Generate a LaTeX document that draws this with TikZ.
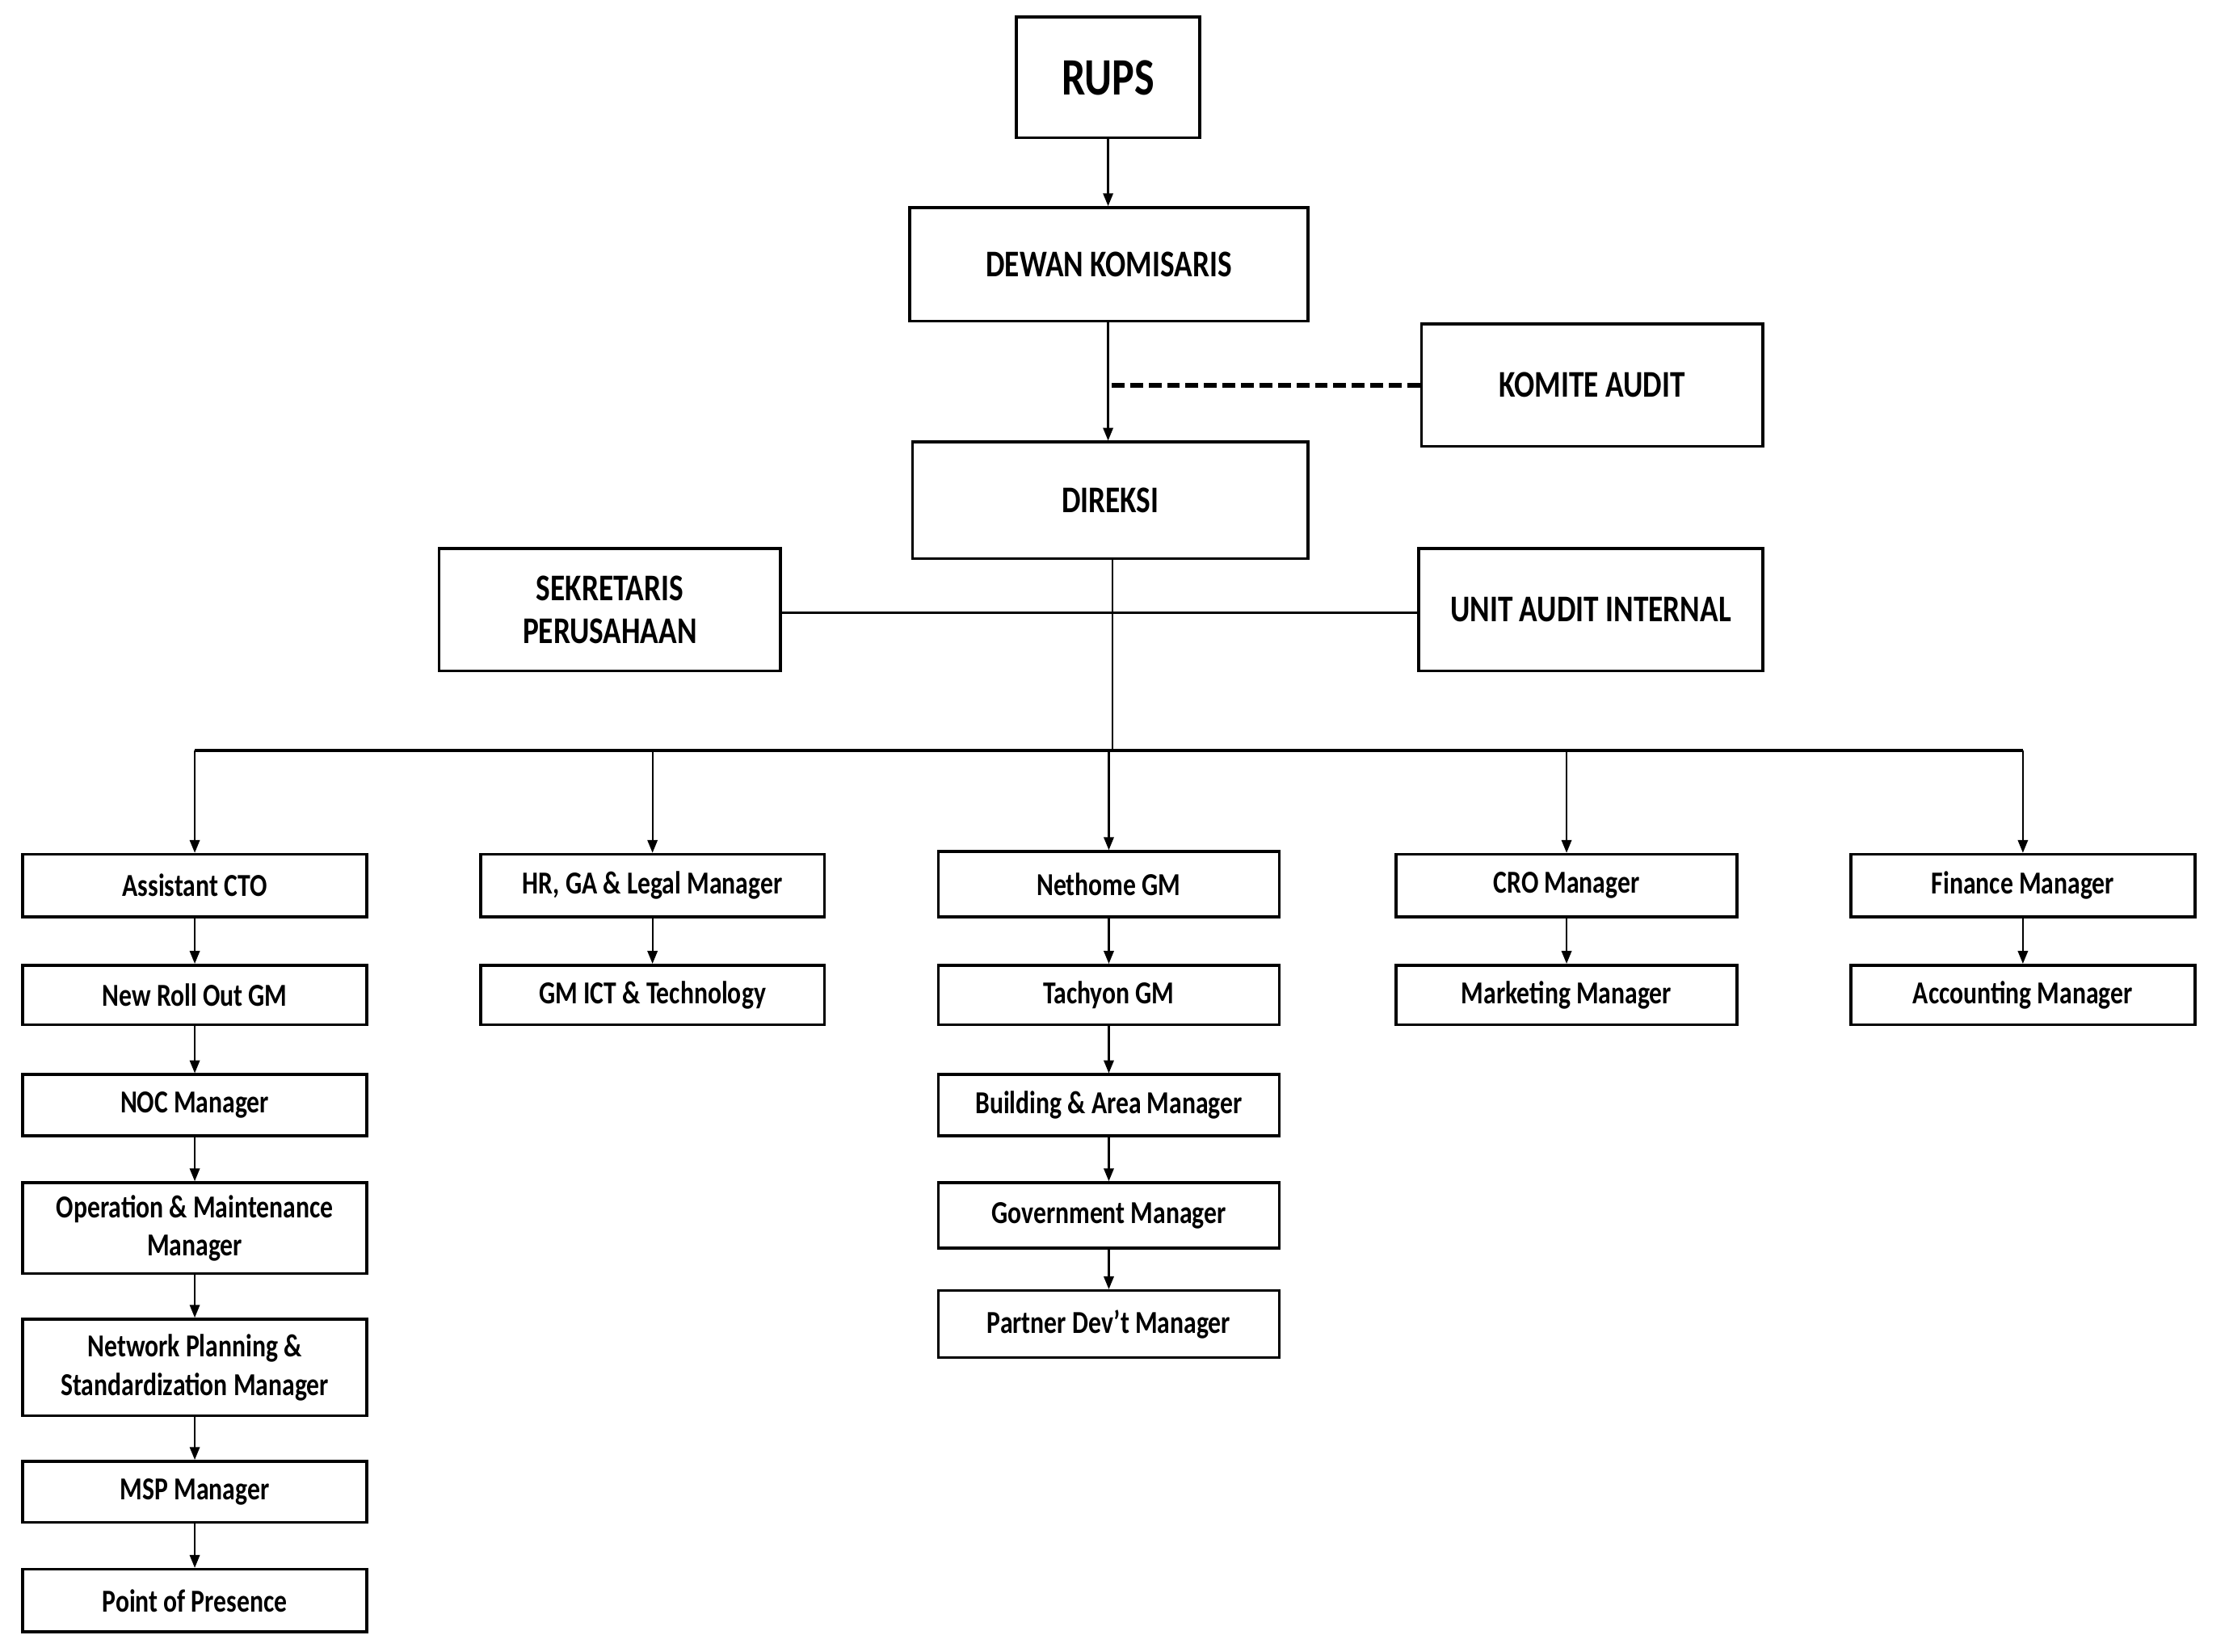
\documentclass[tikz,border=0pt]{standalone}
\usepackage{fontspec}
\setmainfont{Carlito}[FakeStretch=0.8]
\usetikzlibrary{arrows.meta}
\begin{document}
\begin{tikzpicture}[x=1pt,y=-1pt,
  box/.style={draw, line width=2pt, rectangle, inner sep=0pt, align=center,
    font=\bfseries\fontsize{22.5}{27}\selectfont},
  topbox/.style={box, font=\bfseries\fontsize{26.5}{30}\selectfont},
  link/.style={line width=1.3pt},
  arrow/.style={link, -{Triangle[length=9pt,width=7pt]}},
  bus/.style={line width=2.2pt},
  audit/.style={line width=3.6pt, dash pattern=on 9pt off 4pt}
]
\useasboundingbox (0,0) rectangle (1568,1162);

% board level
\node[topbox, minimum width=129pt, minimum height=85pt, font=\bfseries\fontsize{37}{40}\selectfont] (rups) at (779.5,54.5) {RUPS};
\node[topbox, minimum width=280pt, minimum height=80pt] (dewan) at (780,186) {DEWAN KOMISARIS};
\node[topbox, minimum width=240pt, minimum height=86pt] (komite) at (1120,271) {KOMITE AUDIT};
\node[topbox, minimum width=278pt, minimum height=82pt] (direksi) at (781,352) {DIREKSI};
\node[topbox, minimum width=240pt, minimum height=86pt] (sekr) at (429,429) {SEKRETARIS\\PERUSAHAAN};
\node[topbox, minimum width=242pt, minimum height=86pt] (unit) at (1119,429) {UNIT AUDIT INTERNAL};

% column 1
\node[box, minimum width=242pt, minimum height=44pt] (a1) at (137,623) {Assistant CTO};
\node[box, minimum width=242pt, minimum height=42pt] (a2) at (137,700) {New Roll Out GM};
\node[box, minimum width=242pt, minimum height=43pt] (a3) at (137,777.5) {NOC Manager};
\node[box, minimum width=242pt, minimum height=64pt] (a4) at (137,864) {Operation \& Maintenance\\Manager};
\node[box, minimum width=242pt, minimum height=68pt] (a5) at (137,962) {Network Planning \&\\Standardization Manager};
\node[box, minimum width=242pt, minimum height=43pt] (a6) at (137,1049.5) {MSP Manager};
\node[box, minimum width=242pt, minimum height=44pt] (a7) at (137,1126) {Point of Presence};

% column 2
\node[box, minimum width=242pt, minimum height=44pt] (b1) at (459,623) {HR, GA \& Legal Manager};
\node[box, minimum width=242pt, minimum height=42pt] (b2) at (459,700) {GM ICT \& Technology};

% column 3
\node[box, minimum width=240pt, minimum height=46pt] (c1) at (780,622) {Nethome GM};
\node[box, minimum width=240pt, minimum height=42pt] (c2) at (780,700) {Tachyon GM};
\node[box, minimum width=240pt, minimum height=43pt] (c3) at (780,777.5) {Building \& Area Manager};
\node[box, minimum width=240pt, minimum height=46pt] (c4) at (780,855) {Government Manager};
\node[box, minimum width=240pt, minimum height=47pt] (c5) at (780,931.5) {Partner Dev't Manager};

% column 4
\node[box, minimum width=240pt, minimum height=44pt] (d1) at (1102,623) {CRO Manager};
\node[box, minimum width=240pt, minimum height=42pt] (d2) at (1102,700) {Marketing Manager};

% column 5
\node[box, minimum width=242pt, minimum height=44pt] (e1) at (1423,623) {Finance Manager};
\node[box, minimum width=242pt, minimum height=42pt] (e2) at (1423,700) {Accounting Manager};

% upper connectors
\draw[arrow] (rups.south) -- (dewan.north -| rups.south);
\draw[arrow] (dewan.south -| rups.south) -- (direksi.north -| rups.south);
\coordinate (auditjoin) at (rups.south |- komite.west);
\draw[audit] (komite.west) -- (auditjoin);

% distribution bus
\coordinate (busrow) at (0,528);
\coordinate (trunk) at ([xshift=1.5pt]direksi.south);
\draw[link] (sekr.east |- 0,431) -- (unit.west |- 0,431);
\draw[link] (trunk) -- (trunk |- busrow);
\draw[bus] (a1.north |- busrow) -- (e1.north |- busrow);
\foreach \n in {a1,b1,c1,d1,e1}
  \draw[arrow] (\n.north |- busrow) -- (\n.north);

% reporting chains
\foreach \u/\v in {a1/a2,a2/a3,a3/a4,a4/a5,a5/a6,a6/a7,b1/b2,c1/c2,c2/c3,c3/c4,c4/c5,d1/d2,e1/e2}
  \draw[arrow] (\u.south) -- (\v.north);
\end{tikzpicture}
\end{document}
